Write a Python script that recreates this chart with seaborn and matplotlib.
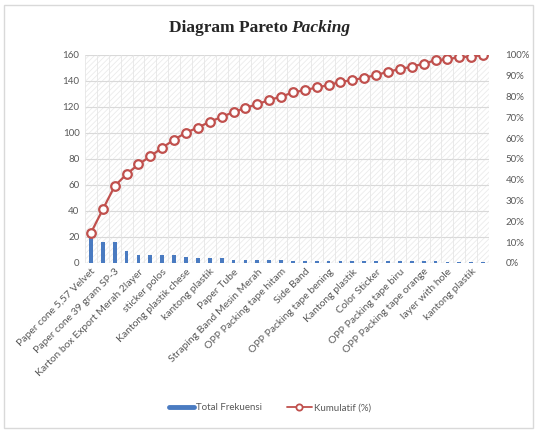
import numpy as np
import matplotlib
matplotlib.use("Agg")
import matplotlib.pyplot as plt
import seaborn as sns
from matplotlib.patches import Rectangle
from matplotlib.lines import Line2D

# ---------------- data ----------------
tick_labels = [
    "Paper cone 5,57 Velvet", "Paper cone 39 gram SP-3", "Karton box Export Merah 2layer",
    "sticker polos", "Kantong plastik chese", "kantong plastik", "Paper Tube",
    "Straping Band Mesin Merah", "OPP Packing tape hitam", "Side Band",
    "OPP Packing tape bening", "Kantong plastik", "Color Sticker",
    "OPP Packing tape biru", "OPP Packing tape orange", "layer with hole", "kantong plastik",
]
item_no = list(range(1, 35))
total_frekuensi = [20, 16, 16, 9, 6.5, 6, 6, 6, 5, 3.5, 3.5, 3.5, 2.5, 2.5, 2.5, 2.5, 2.5,
                   1.5, 1.5, 1.5, 1.5, 1.5, 1.5, 1.5, 1.5, 1.5, 1.5, 1.5, 1.5, 1.5,
                   1, 1, 1, 1]
kumulatif = [14.5, 25.8, 37.0, 42.7, 47.4, 51.3, 55.4, 59.3, 62.7, 65.1, 67.9, 70.2,
             72.6, 74.5, 76.4, 78.3, 80.0, 82.0, 83.1, 84.4, 85.5, 87.1, 87.9, 89.1,
             90.3, 92.0, 93.2, 94.4, 95.8, 97.5, 97.9, 99.0, 99.2, 100.0]
left_ticks = [0, 20, 40, 60, 80, 100, 120, 140, 160]
right_ticks = [0, 10, 20, 30, 40, 50, 60, 70, 80, 90, 100]

BLUE = "#4a7bc1"
RED = "#c0504d"
GRAY = "#595959"

sns.set_style("white")
plt.rcParams["font.family"] = ["Lato", "DejaVu Sans"]
plt.rcParams["hatch.linewidth"] = 0.6

fig = plt.figure(figsize=(5.39, 4.32), dpi=100)
ax = fig.add_axes([85/539, 1-263/432, (489-85)/539, (263-55)/432])

x = np.arange(len(item_no))
# hatched background
ax.add_patch(Rectangle((0, 0), 1, 1, transform=ax.transAxes, facecolor="white",
                       edgecolor="#ebebeb", hatch="//////", lw=0, zorder=0))

sns.barplot(x=x, y=total_frekuensi, native_scale=True, ax=ax, color=BLUE,
            width=0.32, saturation=1, linewidth=0, zorder=3)

ax.set_xlim(-0.5, len(item_no) - 0.5)
ax.set_ylim(0, 160)
ax.set_yticks(left_ticks)
ax.set_yticklabels([str(v) for v in left_ticks], color=GRAY, fontsize=7)
for v in left_ticks[1:]:
    ax.axhline(v, color="#d9d9d9", lw=0.8, zorder=1)
for b in np.arange(-0.5, len(item_no), 1):
    ax.axvline(b, color="#e6e6e6", lw=0.6, zorder=1)
ax.axhline(0, color="#d0d0d0", lw=0.8, zorder=2)
ax.set_xticks(x[::2])
ax.set_xticklabels(tick_labels, rotation=45, ha="right", rotation_mode="anchor",
                   color=GRAY, fontsize=7.5)
ax.tick_params(axis="both", length=0, pad=4)
ax.tick_params(axis="x", pad=3)
for s in ax.spines.values():
    s.set_visible(False)
ax.set_xlabel("")
ax.set_ylabel("")

ax2 = ax.twinx()
sns.lineplot(x=x, y=kumulatif, ax=ax2, color=RED, lw=1.6, marker="o",
             markersize=6.2, markerfacecolor="white", markeredgecolor=RED,
             markeredgewidth=1.6, zorder=5)
ax2.set_ylim(0, 100)
ax2.set_yticks(right_ticks)
ax2.set_yticklabels([f"{v}%" for v in right_ticks], color=GRAY, fontsize=7)
ax2.tick_params(axis="y", length=0, pad=12)
for s in ax2.spines.values():
    s.set_visible(False)
ax2.set_ylabel("")

# legend
handles = [Line2D([0], [0], color=BLUE, lw=3.5),
           Line2D([0], [0], color=RED, lw=1.3, marker="o", markersize=4.5,
                  markerfacecolor="white", markeredgecolor=RED, markeredgewidth=1.3)]
leg = fig.legend(handles, ["Total Frekuensi", "Kumulatif (%)"], loc="center",
                 bbox_to_anchor=(270/539, 1-408/432), ncol=2, frameon=False,
                 fontsize=7, handlelength=2.6, columnspacing=2.5, handletextpad=0.2)
for t in leg.get_texts():
    t.set_color(GRAY)

# border
fig.patches.append(Rectangle((4/539, 4/432), 529/539, 423/432, transform=fig.transFigure,
                             fill=False, edgecolor="#d9d9d9", lw=1.0))

# title in two parts
ty = 1 - 28/432
t1 = fig.text(0, ty, "Diagram Pareto", fontsize=12.5, fontweight="bold",
              family="Liberation Serif", va="center", ha="left")
t2 = fig.text(0, ty, "Packing", fontsize=12.5, fontweight="bold", fontstyle="italic",
              family="Liberation Serif", va="center", ha="left")
fig.canvas.draw()
r = fig.canvas.get_renderer()
w1 = t1.get_window_extent(r).width
w2 = t2.get_window_extent(r).width
gap = 3.8
W = fig.bbox.width
start = 259.5 - (w1 + gap + w2) / 2
t1.set_x(start / W)
t2.set_x((start + w1 + gap) / W)

fig.savefig("out.png", dpi=100)
